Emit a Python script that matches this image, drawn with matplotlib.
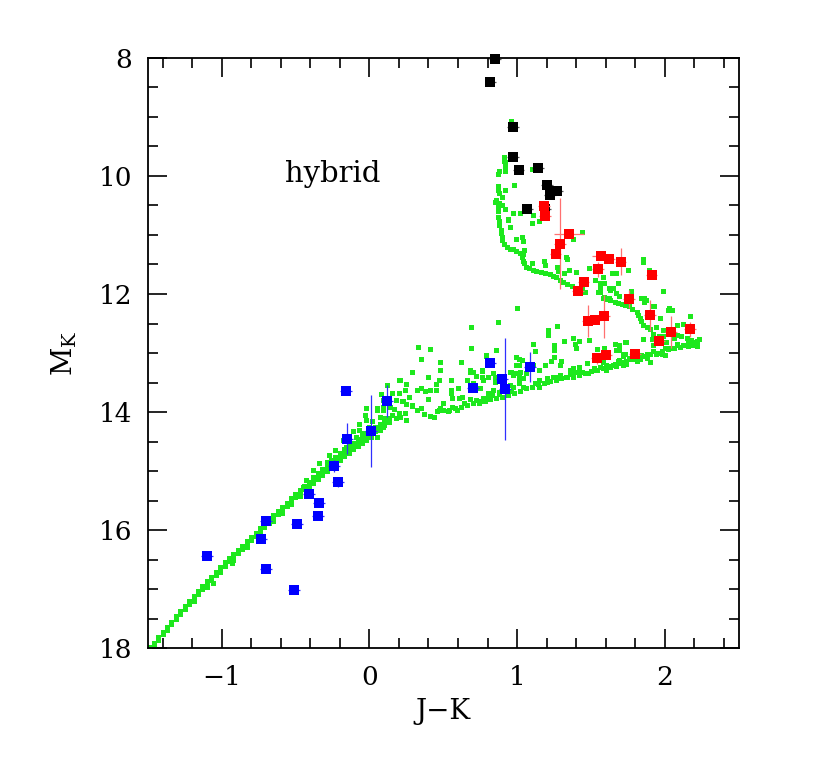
import matplotlib
matplotlib.use("Agg")
import matplotlib.pyplot as plt
from matplotlib.ticker import MultipleLocator, FixedLocator

plt.rcParams['font.family'] = ['DejaVu Serif']
plt.rcParams['mathtext.fontset'] = 'dejavuserif'

# ---------------- model points (green) ----------------
# main-sequence band
ms_x = [-1.49, -1.46, -1.46, -1.43, -1.43, -1.40, -1.40, -1.37, -1.37, -1.34, -1.34,
        -1.31, -1.31, -1.28, -1.28, -1.25, -1.25, -1.22, -1.22, -1.19, -1.19, -1.19,
        -1.16, -1.16, -1.13, -1.13, -1.10, -1.10, -1.10, -1.07, -1.07, -1.04, -1.04,
        -1.01, -1.01, -1.01, -0.98, -0.98, -0.95, -0.95, -0.92, -0.92, -0.92,
        -0.89, -0.89, -0.86, -0.86, -0.83, -0.83, -0.83, -0.80, -0.80, -0.77, -0.77,
        -0.74, -0.74, -0.74, -0.71, -0.71, -0.68, -0.68, -0.65, -0.65, -0.65,
        -0.62, -0.62, -0.59, -0.59, -0.59, -0.56, -0.56, -0.53, -0.53, -0.53,
        -0.50, -0.50, -0.47, -0.47, -0.47, -0.44, -0.44, -0.41, -0.41, -0.41,
        -0.38, -0.38, -0.38, -0.35, -0.35, -0.35, -0.32, -0.32, -0.32,
        -0.29, -0.29, -0.29, -0.26, -0.26, -0.26, -0.23, -0.23, -0.23,
        -0.20, -0.20, -0.20, -0.17, -0.17, -0.17, -0.14, -0.14, -0.14,
        -0.11, -0.11, -0.11, -0.08, -0.08, -0.08, -0.05, -0.05, -0.05,
        -0.02, -0.02, -0.02, 0.01, 0.01, 0.01, 0.04, 0.04, 0.07, 0.07,
        0.10, 0.10, 0.13, 0.13, -0.93, -1.06]
ms_y = [17.99, 17.91, 17.95, 17.82, 17.86, 17.73, 17.77, 17.64, 17.69, 17.56, 17.60,
        17.46, 17.51, 17.38, 17.43, 17.29, 17.34, 17.20, 17.25, 17.11, 17.16, 17.20,
        17.03, 17.08, 16.95, 17.00, 16.87, 16.92, 16.96, 16.79, 16.84, 16.71, 16.76,
        16.63, 16.68, 16.72, 16.55, 16.61, 16.48, 16.53, 16.41, 16.46, 16.50,
        16.34, 16.39, 16.27, 16.32, 16.19, 16.24, 16.29, 16.12, 16.17, 16.05, 16.10,
        15.97, 16.02, 16.07, 15.90, 15.95, 15.83, 15.88, 15.75, 15.80, 15.85,
        15.68, 15.73, 15.61, 15.66, 15.71, 15.54, 15.59, 15.46, 15.51, 15.56,
        15.39, 15.44, 15.32, 15.37, 15.42, 15.25, 15.30, 15.18, 15.23, 15.28,
        15.10, 15.15, 15.20, 15.03, 15.08, 15.13, 14.96, 15.01, 15.07,
        14.89, 14.95, 15.00, 14.82, 14.88, 14.93, 14.76, 14.82, 14.87,
        14.70, 14.75, 14.81, 14.63, 14.69, 14.75, 14.57, 14.63, 14.69,
        14.52, 14.57, 14.63, 14.46, 14.52, 14.58, 14.41, 14.47, 14.53,
        14.36, 14.42, 14.48, 14.31, 14.37, 14.43, 14.26, 14.32, 14.21, 14.27,
        14.16, 14.22, 14.11, 14.17, 16.56, 16.90]

# turn-off / lower branch region and scatter
lb_x = [0.33, 0.41, 0.35, 0.29, 0.20, 0.25, 0.12, 0.08, 0.15, 0.20, 0.18, 0.22,
        0.25, 0.29, -0.02, -0.03, 0.05, 0.09, 0.14, 0.17, -0.07, -0.02, 0.00, 0.02,
        0.07, 0.10, 0.15, 0.18, 0.20, 0.25, -0.11, -0.09, -0.07, -0.05, 0.05, 0.07,
        0.09, 0.03, -0.18, -0.16, -0.14, -0.09, -0.23, -0.20, -0.27, -0.25, -0.34,
        -0.32, -0.29, -0.38, -0.36, -0.43, -0.41, -0.45,
        0.69, 0.87, 0.48, 0.62, 0.69, 0.79, 0.48, 0.68, 0.68, 0.76, 0.21, 0.40,
        0.47, 0.45, 0.55, 0.72, 0.76, 0.80, 0.84, 0.85, 0.95, 0.99, 1.01, 0.99,
        0.24, 0.32, 0.35, 0.38, 0.41, 0.45, 0.55, 0.55, 0.56, 0.40, 0.29, 0.27,
        0.24, 0.21, 0.50, 0.61, 0.63, 0.68, 0.72, 0.75, 0.77, 0.80, 0.83, 0.84,
        0.88, 0.95, 0.97, 1.01, 1.01, 1.01, 0.66, 0.75, 0.60, 0.32, 0.35, 0.37,
        0.41, 0.44, 0.09, 0.09, 0.14, 0.05, 0.07, 0.11, 0.23, 0.47, 0.53, 0.59,
        1.00, 0.87, 1.21, 1.21, 1.27, 1.38, 1.42, 1.32, 1.25, 1.39, 1.40, 1.49,
        1.54, 1.66, 1.69, 1.74, 1.67, 1.72, 1.69, 1.25, 1.25, 1.30, 1.29, 1.36,
        1.38, 1.41, 1.42, 1.47, 1.48, 1.53, 1.58, 1.60, 0.99, 1.03, 0.99, 1.11,
        1.12, 1.23, 1.19, 1.15, 1.10, 1.06, 1.04, 1.02, 1.24, 1.29, 1.33, 1.38,
        0.69, 0.76, 0.77, 0.85, 0.87, 0.70, 0.70, 0.96, 0.97, 1.01, 1.11, 1.15,
        1.20, 1.15, 0.86, 0.79, 1.55, 1.73, 1.85, 1.91, 1.92, 1.97, 1.69, 1.72,
        1.77, 1.81, 1.83, 1.69, 1.72, 1.74, 1.60, 1.63, 1.65, 1.67, 1.56, 1.58,
        1.60, 1.90, 1.88, 1.59, 1.73]
lb_y = [12.89, 12.93, 13.11, 13.32, 13.45, 13.53, 13.55, 13.69, 13.67, 13.67, 13.80, 13.82,
        13.86, 13.89, 13.94, 14.05, 13.94, 13.97, 13.92, 13.95, 14.20, 14.14, 14.26, 14.16,
        14.08, 14.11, 14.05, 14.11, 14.02, 14.14, 14.33, 14.42, 14.31, 14.36, 14.42, 14.31,
        14.25, 14.31, 14.47, 14.59, 14.53, 14.56, 14.64, 14.70, 14.73, 14.81, 14.87,
        14.98, 14.84, 14.98, 15.10, 15.15, 15.21, 15.27,
        12.56, 12.47, 13.15, 13.15, 12.92, 13.05, 13.29, 13.29, 13.33, 13.30, 13.45, 13.41,
        13.45, 13.53, 13.46, 13.39, 13.40, 13.40, 13.34, 13.40, 13.32, 13.06, 13.11, 13.34,
        13.63, 13.63, 13.60, 13.64, 13.63, 13.63, 13.62, 13.68, 13.77, 13.78, 13.88, 13.74,
        14.02, 14.08, 13.85, 13.77, 13.74, 13.78, 13.80, 13.82, 13.77, 13.67, 13.71, 13.63,
        13.66, 13.54, 13.57, 13.51, 13.37, 13.43, 13.46, 13.60, 13.60, 13.97, 13.94, 14.03,
        14.07, 14.08, 13.80, 13.91, 13.91, 13.97, 14.08, 14.14, 13.82, 13.97, 13.99, 13.97,
        12.23, 12.48, 12.61, 12.69, 12.55, 12.74, 12.80, 12.79, 12.86, 12.84, 12.92, 12.78,
        12.94, 12.84, 12.86, 12.82, 12.95, 13.01, 13.12, 12.95, 13.07, 13.13, 13.20, 13.29,
        13.26, 13.32, 13.23, 13.17, 13.34, 13.29, 13.15, 13.20, 13.07, 13.12, 13.20, 12.84,
        12.96, 13.14, 13.20, 13.29, 13.26, 13.34, 13.43, 13.32, 13.40, 13.37, 13.40, 13.34,
        12.92, 13.29, 13.46, 13.49, 13.40, 13.32, 13.51, 13.32, 13.37, 13.20, 13.20, 13.46,
        13.49, 13.57, 12.95, 13.03, 13.03, 13.01, 12.77, 12.77, 12.86, 13.00, 12.95, 13.05,
        13.11, 13.13, 13.11, 13.17, 13.20, 13.19, 13.20, 13.23, 13.20, 13.22, 13.23, 13.26,
        13.29, 13.15, 13.09, 12.92, 12.81]

# dense lower-branch sequence
lseq_x = [0.46, 0.50, 0.54, 0.58, 0.62, 0.66, 0.70, 0.74, 0.78, 0.82, 0.86, 0.90,
          0.94, 0.98, 1.02, 1.06, 1.10, 1.14, 1.18, 1.22, 1.26, 1.30, 1.34, 1.38,
          1.42, 1.46, 1.50, 1.54, 1.58, 1.62, 1.66, 1.70, 1.74, 1.78, 1.82, 1.86,
          1.90, 1.94, 1.98, 2.02, 2.06, 2.10, 2.14, 2.18, 2.22,
          0.48, 0.56, 0.64, 0.72, 0.80, 0.88, 0.96, 1.04, 1.12, 1.20, 1.28, 1.36,
          1.44, 1.52, 1.60, 1.68, 1.76, 1.84, 1.92, 2.00, 2.08, 2.16]
lseq_y = [13.98, 13.96, 13.96, 13.94, 13.91, 13.88, 13.85, 13.84, 13.81, 13.78, 13.76, 13.74,
          13.71, 13.68, 13.64, 13.60, 13.57, 13.53, 13.50, 13.47, 13.45, 13.43, 13.41, 13.40,
          13.37, 13.34, 13.31, 13.28, 13.25, 13.22, 13.19, 13.16, 13.13, 13.11, 13.08, 13.05,
          13.02, 13.00, 12.97, 12.94, 12.92, 12.89, 12.87, 12.84, 12.80,
          13.93, 13.91, 13.85, 13.80, 13.75, 13.70, 13.65, 13.58, 13.50, 13.43, 13.40, 13.36,
          13.32, 13.26, 13.20, 13.14, 13.08, 13.03, 12.97, 12.91, 12.86, 12.81]

# giant / upper hook branch and its scatter
ub_x = [0.96, 0.91, 0.91, 0.92, 0.92, 0.88, 0.87, 1.10, 0.98, 0.87, 0.92, 0.87,
        0.88, 0.90, 0.86, 0.85, 0.88, 0.90, 0.87, 0.92, 0.87, 0.97, 1.02, 0.87,
        0.94, 1.11, 0.88, 0.88, 1.10, 1.15, 0.95, 0.89, 0.89, 0.90, 0.90, 0.99,
        1.03, 1.04, 0.91, 0.93, 0.95, 0.97, 0.99, 1.02, 1.04, 1.05, 1.03, 1.04,
        1.05, 1.10, 1.06, 1.08, 1.11, 1.13, 1.16, 1.19, 1.18, 1.19, 1.22, 1.24,
        1.27, 1.28, 1.26, 1.29, 1.32, 1.33, 1.34, 1.31, 1.34, 1.37, 1.40, 1.35,
        1.40, 1.44, 1.46, 1.38, 1.44, 1.49, 1.55, 0.92, 0.94, 0.95, 1.38, 1.53,
        1.58, 1.59, 1.64, 1.68, 1.89, 1.56, 1.65,
        1.85, 1.85, 1.64, 1.67, 1.75, 1.56, 1.56, 1.68, 1.62, 1.63, 1.56, 1.67,
        1.69, 1.77, 1.99, 1.58, 1.60, 1.63, 1.66, 1.68, 1.71, 1.73, 1.86, 1.87,
        1.76, 1.78, 1.81, 1.92, 2.03, 2.02, 2.05, 1.82, 1.83, 1.84, 1.97, 2.17,
        1.85, 1.88, 1.90, 1.94, 1.99, 2.08, 2.12, 1.92, 1.96, 1.99, 2.08, 2.11,
        2.15, 2.18, 2.21, 2.23, 2.06, 2.08, 2.12, 2.16, 2.19, 2.22, 2.01, 2.03,
        1.98, 2.00, 1.94, 1.88, 1.85, 1.59, 1.62, 1.84, 1.86, 1.93]
ub_y = [9.06, 9.68, 9.74, 9.83, 9.92, 9.92, 9.97, 9.88, 10.16, 10.17, 10.23, 10.24,
        10.28, 10.35, 10.41, 10.44, 10.46, 10.50, 10.52, 10.56, 10.60, 10.63, 10.63, 10.69,
        10.73, 10.66, 10.77, 10.83, 10.79, 10.76, 10.87, 10.92, 10.97, 11.03, 11.08, 11.07,
        11.04, 11.10, 11.15, 11.20, 11.23, 11.24, 11.27, 11.30, 11.33, 11.25, 11.38, 11.44,
        11.48, 11.47, 11.54, 11.56, 11.59, 11.61, 11.62, 11.64, 11.44, 11.51, 11.66, 11.69,
        11.54, 11.61, 11.72, 11.76, 11.65, 11.37, 11.41, 11.79, 11.83, 11.86, 11.89, 11.59,
        11.62, 11.92, 11.96, 11.07, 10.95, 11.56, 11.96, 9.76, 10.75, 10.86, 11.06, 11.76,
        11.71, 11.82, 11.64, 11.81, 11.60, 11.97, 11.90,
        11.41, 11.45, 11.64, 11.64, 11.60, 11.82, 11.88, 11.82, 11.90, 11.93, 11.93, 11.99,
        12.03, 11.95, 11.95, 12.07, 12.09, 12.11, 12.13, 12.16, 12.17, 12.19, 12.07, 12.11,
        12.21, 12.26, 12.30, 12.21, 12.23, 12.27, 12.27, 12.36, 12.41, 12.45, 12.41, 12.37,
        12.53, 12.56, 12.60, 12.56, 12.61, 12.53, 12.50, 12.67, 12.71, 12.71, 12.69, 12.72,
        12.75, 12.78, 12.81, 12.77, 12.75, 12.84, 12.86, 12.88, 12.86, 12.88, 12.81, 12.92,
        13.01, 13.03, 13.02, 13.02, 12.77, 12.05, 12.07, 12.07, 12.13, 12.21]

# ---------------- observed points ----------------
black_x = [0.85, 0.82, 0.97, 0.97, 1.01, 1.14, 1.20, 1.22, 1.27, 1.07, 1.19]
black_y = [8.02, 8.41, 9.17, 9.67, 9.90, 9.86, 10.15, 10.33, 10.26, 10.56, 10.56]
black_yerr = [0.03, 0.03, 0.03, 0.03, 0.03, 0.03, 0.03, 0.03, 0.03, 0.03, 0.03]

red_x = [1.18, 1.19, 1.35, 1.29, 1.26, 1.57, 1.62, 1.70, 1.55, 1.91, 1.45, 1.41,
         1.76, 1.48, 1.53, 1.59, 1.90, 2.04, 2.17, 1.96, 1.54, 1.60, 1.80]
red_y = [10.51, 10.67, 10.99, 11.15, 11.32, 11.36, 11.40, 11.45, 11.58, 11.67, 11.80, 11.95,
         12.08, 12.46, 12.44, 12.38, 12.36, 12.65, 12.60, 12.79, 13.09, 13.03, 13.02]
red_xerr = [0.04, 0.04, 0.10, 0.04, 0.04, 0.06, 0.04, 0.04, 0.04, 0.04, 0.04, 0.04,
            0.04, 0.04, 0.04, 0.04, 0.04, 0.04, 0.04, 0.04, 0.04, 0.04, 0.04]
red_yerr = [0.03, 0.03, 0.03, 0.77, 0.03, 0.03, 0.03, 0.23, 0.13, 0.03, 0.03, 0.03,
            0.15, 0.27, 0.03, 0.36, 0.26, 0.27, 0.13, 0.03, 0.09, 0.03, 0.03]

blue_x = [-1.10, -0.70, -0.73, -0.70, -0.51, -0.49, -0.41, -0.34, -0.35, -0.21,
          -0.24, -0.15, -0.16, 0.01, 0.12, 0.70, 0.82, 0.90, 0.92, 1.09]
blue_y = [16.44, 15.84, 16.16, 16.66, 17.02, 15.89, 15.39, 15.54, 15.76, 15.19,
          14.92, 14.45, 13.65, 14.32, 13.81, 13.59, 13.17, 13.44, 13.61, 13.24]
blue_yerr = [0.03, 0.03, 0.05, 0.03, 0.03, 0.03, 0.03, 0.03, 0.03, 0.08,
             0.10, 0.26, 0.03, 0.61, 0.27, 0.03, 0.03, 0.03, 0.87, 0.25]

x_ticks = [-1, 0, 1, 2]
y_ticks = [8, 10, 12, 14, 16, 18]

fig = plt.figure(figsize=(8.30, 7.63), dpi=100)
ax = fig.add_axes([0.178, 0.1507, 0.712, 0.7733])

green = '#1de81d'
for gx, gy in [(ms_x, ms_y), (lb_x, lb_y), (lseq_x, lseq_y), (ub_x, ub_y)]:
    ax.plot(gx, gy, 's', color=green, ms=3.6, mew=0, linestyle='none', zorder=2)

ax.errorbar(black_x, black_y, xerr=0.04, yerr=black_yerr, fmt='s', color='black',
            ms=6.5, mew=0, ecolor='#555555', elinewidth=0.9, capsize=0, zorder=4,
            clip_on=False)
ax.errorbar(red_x, red_y, xerr=red_xerr, yerr=red_yerr, fmt='s', color='#ff0000',
            ms=6.5, mew=0, ecolor='#ff7070', elinewidth=0.9, capsize=0, zorder=5)
ax.errorbar(blue_x, blue_y, xerr=0.04, yerr=blue_yerr, fmt='s', color='#0000ff',
            ms=6.5, mew=0, ecolor='#3030ff', elinewidth=0.9, capsize=0, zorder=6)

ax.set_xlim(-1.5, 2.5)
ax.set_ylim(18, 8)
ax.xaxis.set_major_locator(FixedLocator(x_ticks))
ax.xaxis.set_minor_locator(MultipleLocator(0.2))
ax.yaxis.set_major_locator(FixedLocator(y_ticks))
ax.yaxis.set_minor_locator(MultipleLocator(0.5))
ax.set_xticklabels(['\u22121', '0', '1', '2'])
ax.tick_params(which='both', direction='in', top=True, right=True, width=1.2,
               labelsize=19, colors='black')
ax.tick_params(which='major', length=14, pad=12)
ax.tick_params(which='minor', length=7)
ax.tick_params(axis='y', which='major', pad=11)
for sp in ax.spines.values():
    sp.set_linewidth(1.3)

ax.set_xlabel('J\u2212K', fontsize=20, labelpad=6)
ax.set_ylabel(r'$\mathrm{M_K}$', fontsize=20, labelpad=14)
ax.text(-0.25, 9.97, 'hybrid', fontsize=21, ha='center', va='center')

fig.savefig('out.png', dpi=100)
